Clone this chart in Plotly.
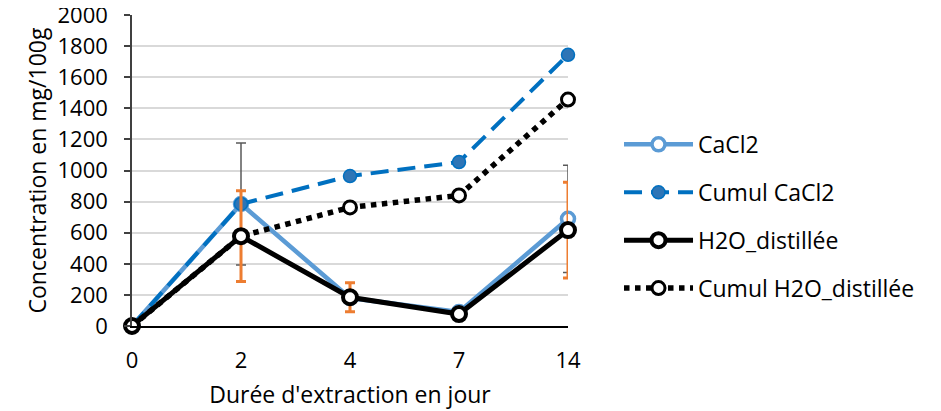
import plotly.graph_objects as go

days = ["0", "2", "4", "7", "14"]
cacl2 = [0, 785, 180, 90, 690]
cumul_cacl2 = [0, 785, 965, 1055, 1745]
h2o = [0, 578, 185, 77, 617]
cumul_h2o = [0, 578, 763, 840, 1457]
err_cacl2 = [None, 392, None, None, 345]
err_h2o = [None, 292, 93, None, 308]

FONT = "Open Sans"
FS = 22
FS_T = 23

fig = go.Figure()

fig.add_trace(go.Scatter(
    x=days, y=cacl2, name="CaCl2", mode="lines+markers", cliponaxis=False,
    line=dict(color="#5b9bd5", width=4.5),
    marker=dict(symbol="circle", size=13, color="white", line=dict(color="#5b9bd5", width=3.5)),
    error_y=dict(type="data", array=err_cacl2, color="#595959", thickness=1.5, width=5),
    legendgroup="a"))

fig.add_trace(go.Scatter(
    x=days, y=cumul_cacl2, name="Cumul CaCl2", mode="lines+markers", cliponaxis=False,
    line=dict(color="#0070c0", width=4, dash="18px,9px"),
    marker=dict(symbol="circle", size=13, color="#2e75b6", line=dict(color="#0070c0", width=1.5)),
    legendgroup="b"))

fig.add_trace(go.Scatter(
    x=days, y=h2o, name="H2O_distillée", mode="lines+markers", cliponaxis=False,
    line=dict(color="black", width=5),
    marker=dict(symbol="circle", size=14, color="white", line=dict(color="black", width=4)),
    error_y=dict(type="data", array=err_h2o, color="#ed7d31", thickness=3, width=5),
    legendgroup="c"))

fig.add_trace(go.Scatter(
    x=days, y=cumul_h2o, name="Cumul H2O_distillée", mode="lines+markers", cliponaxis=False,
    line=dict(color="black", width=5.5, dash="dot"),
    marker=dict(symbol="circle", size=13, color="white", line=dict(color="black", width=3)),
    legendgroup="d"))

fig.update_layout(
    width=933, height=403,
    margin=dict(l=124, r=373, t=7, b=85, autoexpand=False),
    paper_bgcolor="white", plot_bgcolor="white",
    font=dict(family=FONT, size=FS, color="black"),
    legend=dict(x=1.117, xanchor="left", y=0.653, yanchor="top",
                font=dict(family=FONT, size=FS_T, color="black"),
                traceorder="grouped", tracegroupgap=15, itemwidth=69,
                bgcolor="rgba(0,0,0,0)"),
    xaxis=dict(type="category", categoryorder="array", categoryarray=days,
               range=[0, 4], showline=True, linecolor="black", linewidth=1.5,
               showgrid=False, ticks="", ticklabelstandoff=14, automargin=False,
               ticklabeloverflow="allow",
               tickfont=dict(family=FONT, size=FS, color="black"),
               title=dict(text="Durée d'extraction en jour", standoff=14,
                          font=dict(family=FONT, size=FS_T, color="black"))),
    yaxis=dict(range=[0, 2001], dtick=200, showline=True, linecolor="#404040", linewidth=1.5,
               showgrid=True, gridcolor="#d9d9d9", gridwidth=1.5, zeroline=False,
               ticks="outside", ticklen=6, tickcolor="#404040", tickwidth=1.5,
               ticklabelstandoff=12, automargin=False, ticklabeloverflow="allow",
               tickfont=dict(family=FONT, size=FS, color="black"),
               title=dict(text="Concentration en mg/100g", standoff=4,
                          font=dict(family=FONT, size=FS_T, color="black"))),
)

fig.write_html("out.html")
